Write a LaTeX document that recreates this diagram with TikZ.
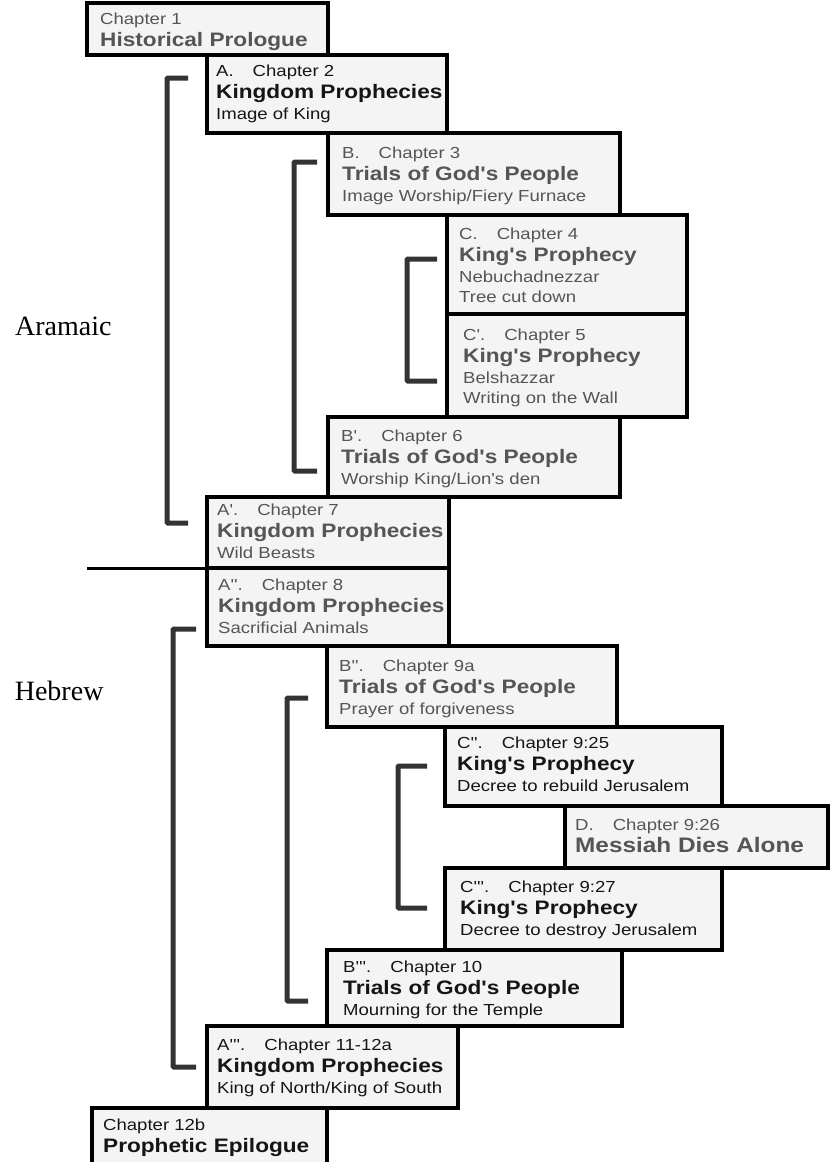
\documentclass[tikz,border=0pt]{standalone}
\usepackage{fontspec}
\setmainfont{Liberation Serif}
\setsansfont{Liberation Sans}[FakeStretch=1.16,Ligatures=TeXOff]
\usetikzlibrary{positioning}

\definecolor{boxfill}{HTML}{F4F4F4}
\definecolor{greytext}{HTML}{555555}
\definecolor{darktext}{HTML}{151515}
\definecolor{bracket}{HTML}{333333}

\newcommand{\ttl}{\bfseries\fontsize{19.5}{20.5}\selectfont}
\newcommand{\strt}{\rule{0pt}{13pt}}
\newcommand{\chgap}{\hspace{19pt}}

\begin{document}
\begin{tikzpicture}[x=1pt,y=-1pt,
  box/.style={draw=black,line width=4pt,fill=boxfill,anchor=north west,inner sep=0pt,outer sep=0pt},
  txt/.style={anchor=north west,align=left,inner sep=0pt,font=\sffamily\fontsize{16}{20.5}\selectfont},
  grey/.style={txt,text=greytext},
  dark/.style={txt,text=darktext},
  brace/.style={draw=bracket,line width=5pt,rounded corners=1pt},
  side/.style={anchor=base east,font=\fontsize{28}{30}\selectfont}]
\useasboundingbox (0,0) rectangle (830,1162);

% boxes
\node[box,minimum width=241,minimum height=52] (pro) at (87,3) {};
\node[box,minimum width=240,minimum height=78] (a) at (207,55) {};
\node[box,minimum width=292,minimum height=82] (b) at (328,133) {};
\node[box,minimum width=240,minimum height=99] (c) at (447,215) {};
\node[box,minimum width=240,minimum height=103] (c1) at (447,314) {};
\node[box,minimum width=292,minimum height=80] (b1) at (328,417) {};
\node[box,minimum width=242,minimum height=71] (a1) at (207,497) {};
\node[box,minimum width=242,minimum height=78] (a2) at (207,568) {};
\node[box,minimum width=290,minimum height=81] (b2) at (327,646) {};
\node[box,minimum width=277,minimum height=79] (c2) at (445,727) {};
\node[box,minimum width=263,minimum height=62] (d) at (565,806) {};
\node[box,minimum width=277,minimum height=82] (c3) at (445,868) {};
\node[box,minimum width=295,minimum height=76] (b3) at (327,950) {};
\node[box,minimum width=251,minimum height=82] (a3) at (207,1026) {};
\node[box,minimum width=235,minimum height=62] (epi) at (92,1108) {};

\draw[line width=3pt] (87,568) -- (a1.south west);

% brackets
\foreach \xl/\xr/\yt/\yb in {167/188/78/523, 294/317/162/471, 407/437/259/381,
                             173/196/629/1067, 287/308/698/1001, 398/427/766/908}
  \draw[brace] (\xr,\yt) -| (\xl,\yb) -- (\xr,\yb);

\node[side] (aram) at (115,335) {Aramaic};
\node[side] (heb) at (107,700) {Hebrew};

% texts
\node[grey] (pro-t) at (100,11) {\strt Chapter 1\\[2pt] {\ttl Historical Prologue}};
\node[dark] (a-t) at (216,63) {\strt A.\chgap Chapter 2\\[2pt] {\ttl Kingdom Prophecies}\\ Image of King};
\node[grey] (b-t) at (342,145) {\strt B.\chgap Chapter 3\\[2pt] {\ttl Trials of God's People}\\ Image Worship/Fiery Furnace};
\node[grey] (c-t) at (459,226) {\strt C.\chgap Chapter 4\\[2pt] {\ttl King's Prophecy}\\ Nebuchadnezzar\\ Tree cut down};
\node[grey] (c1-t) at (463,327) {\strt C'.\chgap Chapter 5\\[2pt] {\ttl King's Prophecy}\\ Belshazzar\\ Writing on the Wall};
\node[grey] (b1-t) at (341,428) {\strt B'.\chgap Chapter 6\\[2pt] {\ttl Trials of God's People}\\ Worship King/Lion's den};
\node[grey] (a1-t) at (217,502) {\strt A'.\chgap Chapter 7\\[2pt] {\ttl Kingdom Prophecies}\\ Wild Beasts};
\node[grey] (a2-t) at (218,577) {\strt A''.\chgap Chapter 8\\[2pt] {\ttl Kingdom Prophecies}\\ Sacrificial Animals};
\node[grey] (b2-t) at (339,658) {\strt B''.\chgap Chapter 9a\\[2pt] {\ttl Trials of God's People}\\ Prayer of forgiveness};
\node[dark] (c2-t) at (457,735) {\strt C''.\chgap Chapter 9:25\\[2pt] {\ttl King's Prophecy}\\ Decree to rebuild Jerusalem};
\node[grey] (d-t) at (575,817) {\strt D.\chgap Chapter 9:26\\[2pt] {\bfseries\fontsize{21}{21}\selectfont Messiah Dies Alone}};
\node[dark] (c3-t) at (460,879) {\strt C'''.\chgap Chapter 9:27\\[2pt] {\ttl King's Prophecy}\\ Decree to destroy Jerusalem};
\node[dark] (b3-t) at (343,959) {\strt B'''.\chgap Chapter 10\\[2pt] {\ttl Trials of God's People}\\ Mourning for the Temple};
\node[dark] (a3-t) at (217,1037) {\strt A'''.\chgap Chapter 11-12a\\[2pt] {\ttl Kingdom Prophecies}\\ King of North/King of South};
\node[dark] (epi-t) at (103,1117) {\strt Chapter 12b\\[2pt] {\ttl Prophetic Epilogue}};
\end{tikzpicture}
\end{document}
